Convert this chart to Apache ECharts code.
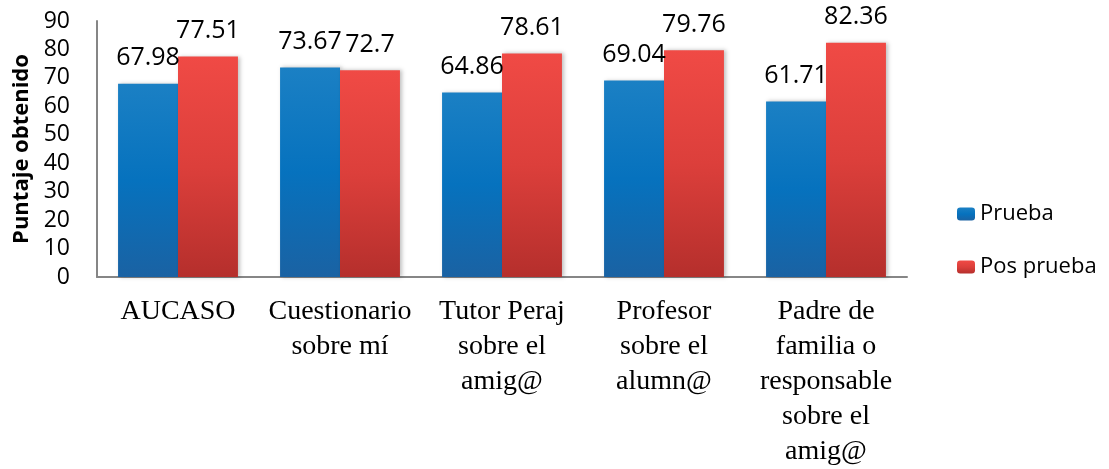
<!DOCTYPE html>
<html>
<head>
<meta charset="utf-8">
<script src="https://cdn.jsdelivr.net/npm/echarts@6/dist/echarts.min.js"></script>
<style>
  html, body { margin: 0; padding: 0; background: #fff; }
  #chart { width: 1109px; height: 469px; }
</style>
</head>
<body>
<div id="chart"></div>
<script>
// categorias del eje x
const categorias = [
  'AUCASO',
  'Cuestionario\nsobre mí',
  'Tutor Peraj\nsobre el\namig@',
  'Profesor\nsobre el\nalumn@',
  'Padre de\nfamilia o\nresponsable\nsobre el\namig@'
];
const prueba = [67.98, 73.67, 64.86, 69.04, 61.71];
const posPrueba = [77.51, 72.7, 78.61, 79.76, 82.36];
const ticksY = [0, 10, 20, 30, 40, 50, 60, 70, 80, 90];

let chartNode = document.getElementById('chart');
let myChart = echarts.init(chartNode);

// degradado vertical como en el original
function grad(top, mid, bottom) {
  return new echarts.graphic.LinearGradient(0, 0, 0, 1, [
    { offset: 0, color: top },
    { offset: 0.5, color: mid },
    { offset: 1, color: bottom }
  ]);
}

const labelStyle = {
  show: true,
  position: 'top',
  distance: 13,
  fontFamily: 'Open Sans',
  fontSize: 25,
  color: '#000'
};

let option = {
  animation: false,
  grid: { left: 97, right: 202, top: 21, bottom: 190 },
  legend: {
    orient: 'vertical',
    left: 952,
    top: 198,
    itemWidth: 18,
    itemHeight: 13,
    itemGap: 31,
    textStyle: { fontFamily: 'Open Sans', fontSize: 22, color: '#000' },
    data: ['Prueba', 'Pos prueba']
  },
  xAxis: {
    type: 'category',
    data: categorias,
    axisLine: { lineStyle: { color: '#868686', width: 2 } },
    axisTick: { show: false },
    axisLabel: {
      margin: 17,
      fontFamily: 'Liberation Serif',
      fontSize: 28,
      lineHeight: 35,
      color: '#000',
      interval: 0
    }
  },
  yAxis: {
    type: 'value',
    min: ticksY[0],
    max: ticksY[ticksY.length - 1],
    interval: 10,
    name: 'Puntaje obtenido',
    nameLocation: 'middle',
    nameGap: 58,
    nameTextStyle: { fontFamily: 'Open Sans', fontWeight: 'bold', fontSize: 22, color: '#000' },
    axisLine: { show: true, lineStyle: { color: '#868686', width: 2 } },
    axisTick: { show: false },
    splitLine: { show: false },
    axisLabel: { margin: 27, fontFamily: 'Open Sans', fontSize: 23, color: '#000' }
  },
  series: [{
    name: 'Prueba',
    type: 'bar',
    data: prueba,
    barGap: '0%',
    barCategoryGap: '26%',
    label: labelStyle,
    itemStyle: {
      color: grad('#1b80c4', '#0672be', '#1a62a3'),
      shadowColor: 'rgba(0,0,0,0.25)',
      shadowBlur: 4,
      shadowOffsetX: 2
    }
  }, {
    name: 'Pos prueba',
    type: 'bar',
    data: posPrueba,
    label: labelStyle,
    itemStyle: {
      color: grad('#f04a45', '#dc3f3b', '#b52f2c'),
      shadowColor: 'rgba(0,0,0,0.25)',
      shadowBlur: 4,
      shadowOffsetX: 2
    }
  }]
};

myChart.setOption(option);
</script>
</body>
</html>
